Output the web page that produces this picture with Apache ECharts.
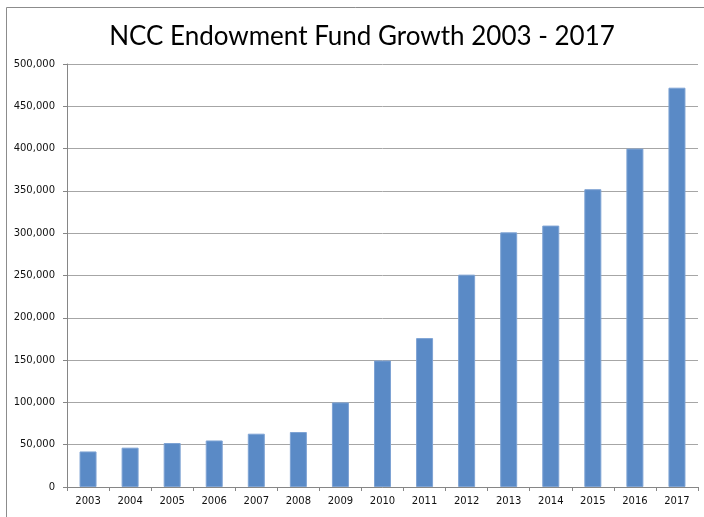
<!DOCTYPE html>
<html><head><meta charset="utf-8">
<script src="https://cdn.jsdelivr.net/npm/echarts@6/dist/echarts.min.js"></script>
<style>html,body{margin:0;padding:0;background:#fff}#c{width:704px;height:517px}</style>
</head><body><div id="c"></div>
<script>
const years = ['2003','2004','2005','2006','2007','2008','2009','2010','2011','2012','2013','2014','2015','2016','2017'];
const fundValues = [42000,46500,52000,55000,63000,65000,100000,149500,176000,251000,301000,309000,352000,400000,472000];
const titleText = 'NCC Endowment Fund Growth 2003 - 2017';

const chart = echarts.init(document.getElementById('c'), null, {renderer:'canvas'});
chart.setOption({
  animation:false,
  backgroundColor:'#fff',
  graphic:[{type:'rect',shape:{x:6.5,y:7.5,width:760,height:560},style:{fill:'none',stroke:'#8c8c8c',lineWidth:1},silent:true}],
  title:{text:titleText,left:357,top:19,textAlign:'center',textStyle:{fontFamily:'Lato',fontSize:26,fontWeight:'normal',color:'#000'}},
  grid:{left:67,right:6,top:64,bottom:30},
  xAxis:{type:'category',data:years,boundaryGap:true,
    axisLine:{lineStyle:{color:'#868686'}},
    axisTick:{show:true,length:4,lineStyle:{color:'#868686'}},
    axisLabel:{fontFamily:'DejaVu Sans',fontSize:10,color:'#111',margin:9}},
  yAxis:{type:'value',min:0,max:500000,interval:50000,
    axisLine:{show:true,lineStyle:{color:'#868686'}},
    axisTick:{show:true,length:4,lineStyle:{color:'#868686'}},
    splitLine:{lineStyle:{color:'#a6a6a6'}},
    axisLabel:{fontFamily:'DejaVu Sans',fontSize:10,color:'#111',margin:12,
      formatter:v=>v.toLocaleString('en-US')}},
  series:[{type:'bar',data:fundValues,barWidth:17,
    itemStyle:{color:'#5a8ac6',borderColor:'#7ea3d4',borderWidth:1}}]
});
</script></body></html>
